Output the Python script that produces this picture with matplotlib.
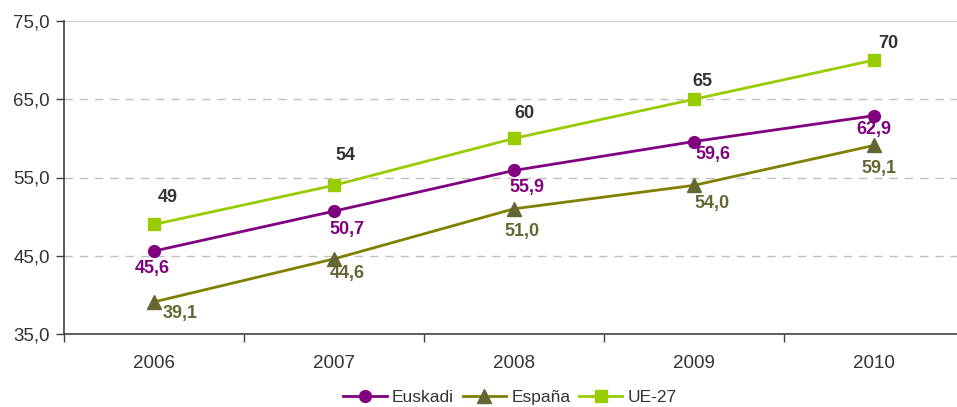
import matplotlib
matplotlib.use("Agg")
import matplotlib.pyplot as plt
from matplotlib.ticker import FixedLocator, NullFormatter

plt.rcParams['font.family'] = ['Liberation Sans', 'DejaVu Sans']

years = ["2006", "2007", "2008", "2009", "2010"]
euskadi = [45.6, 50.7, 55.9, 59.6, 62.9]
espana = [39.1, 44.6, 51.0, 54.0, 59.1]
ue27 = [49, 54, 60, 65, 70]
y_ticks = [35, 45, 55, 65, 75]

# label offsets in pixels (dx, dy down-positive)
off_eus = [(-2, 17), (13, 18), (13, 17), (19, 13), (0, 14)]
off_esp = [(26, 12), (13, 15), (8, 23), (18, 18), (5, 23)]
off_ue = [(14, -27), (11, -30), (10, -25), (8, -18), (14, -17)]

W, H = 957, 407
fig = plt.figure(figsize=(W / 100, H / 100), dpi=100)
left, right, top, bottom = 64, 957, 21, 334
ax = fig.add_axes([left / W, 1 - bottom / H, (right - left) / W, (bottom - top) / H])

x = list(range(len(years)))
ax.set_xlim(-0.5, -0.5 + (right - left) / 180)
ax.set_ylim(35, 75)

c_eus = '#800080'
c_esp_line = '#808000'
c_esp_mk = '#666633'
c_ue = '#99CC00'

ax.plot(x, euskadi, color=c_eus, lw=2.0, marker='o', ms=8.5, mfc=c_eus, mec=c_eus,
        label='Euskadi', zorder=3)
ax.plot(x, espana, color=c_esp_line, lw=2.0, marker='^', ms=9.5, mfc=c_esp_mk, mec=c_esp_mk,
        label='España', zorder=3)
ax.plot(x, ue27, color=c_ue, lw=2.0, marker='s', ms=9, mfc=c_ue, mec=c_ue,
        label='UE-27', zorder=3)

def fmt(v):
    return f"{v:.1f}".replace('.', ',')

FS = 13
px = 72 / 100
for i in x:
    dx, dy = off_eus[i]
    ax.annotate(fmt(euskadi[i]), (i, euskadi[i]), xytext=(dx * px, -dy * px),
                textcoords='offset points', ha='center', va='center',
                fontsize=FS, fontweight='bold', color=c_eus)
    dx, dy = off_esp[i]
    ax.annotate(fmt(espana[i]), (i, espana[i]), xytext=(dx * px, -dy * px),
                textcoords='offset points', ha='center', va='center',
                fontsize=FS, fontweight='bold', color=c_esp_mk)
    dx, dy = off_ue[i]
    ax.annotate(str(ue27[i]), (i, ue27[i]), xytext=(dx * px, -dy * px),
                textcoords='offset points', ha='center', va='center',
                fontsize=FS, fontweight='bold', color='#333333')

# grid
for yv in y_ticks[1:-1]:
    ax.axhline(yv, color='#bfbfbf', lw=1.0, ls=(0, (6, 5)), zorder=1)
ax.axhline(75, color='#bfbfbf', lw=1.2, zorder=1)

for s in ['top', 'right']:
    ax.spines[s].set_visible(False)
ax.spines['left'].set_color('#404040')
ax.spines['bottom'].set_color('#404040')
ax.spines['left'].set_linewidth(1.2)
ax.spines['bottom'].set_linewidth(1.2)

ax.set_yticks(y_ticks)
ax.set_yticklabels([fmt(v) for v in y_ticks], fontsize=13.5, color='#333333')
ax.tick_params(axis='y', length=6, width=1, color='#404040', pad=4)

ax.set_xticks(x)
ax.set_xticklabels(years, fontsize=13.5, color='#333333')
ax.tick_params(axis='x', which='major', length=0, pad=15)
ax.xaxis.set_minor_locator(FixedLocator([i - 0.5 for i in range(len(years) + 1)]))
ax.xaxis.set_minor_formatter(NullFormatter())
ax.tick_params(axis='x', which='minor', length=6, width=1, color='#404040')

leg = fig.legend(loc='center', bbox_to_anchor=(510 / W, 10 / H), ncol=3, frameon=False,
                 fontsize=12.5, handlelength=2.5, columnspacing=0.5, handletextpad=0.3,
                 borderpad=0.1)
for t in leg.get_texts():
    t.set_color('#333333')

fig.savefig('out.png', dpi=100)
